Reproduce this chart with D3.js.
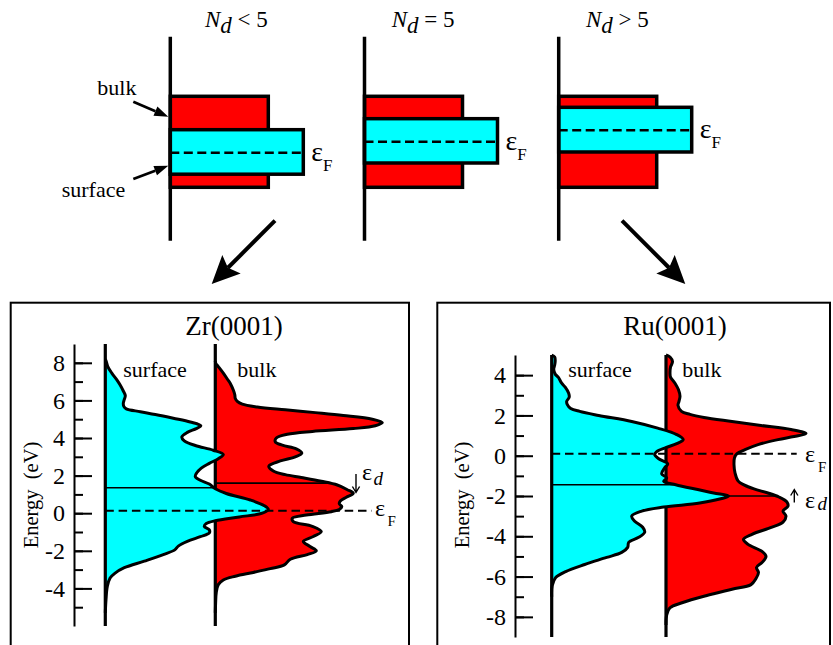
<!DOCTYPE html>
<html>
<head>
<meta charset="utf-8">
<script src="https://cdn.jsdelivr.net/npm/d3@7"></script>
<style>
  html, body { margin: 0; padding: 0; background: #fff; }
  svg { display: block; }
  svg text { font-family: "Liberation Serif", serif; }
</style>
</head>
<body>
<svg id="fig" width="833" height="645"></svg>
<script>
// ---------------- schematic d-band cases (N_d relative to 5) ----------------
const caseRelations = ["<", "=", ">"];
const bulkBand = [-1, 1];                       // bulk band edges (schematic energy units)
const surfaceBands = [[-0.712, 0.266], [-0.466, 0.508], [-0.224, 0.758]];
const schematicFermi = [-0.24, 0.0, 0.253];
const bulkBandWidth = 0.98;                      // DOS height of bulk band
const surfaceBandWidth = 1.33;                   // DOS height of surface band

// ---------------- calculated d-DOS, [energy (eV), DOS (arb. units)] ----------------
const zrSurface = [
  [8.2, 0], [8.1, 0.008], [7.8, 0.025], [7.45, 0.065], [7.1, 0.114], [6.8, 0.15], [6.5, 0.18],
  [6.25, 0.20], [6.05, 0.19], [5.85, 0.18], [5.68, 0.185], [5.55, 0.21], [5.4, 0.35], [5.25, 0.50],
  [5.05, 0.68], [4.85, 0.85], [4.65, 0.955], [4.5, 0.91], [4.3, 0.82], [4.05, 0.765], [3.85, 0.79],
  [3.6, 0.90], [3.35, 1.08], [3.12, 1.18], [2.9, 1.13], [2.65, 1.04], [2.4, 0.96], [2.15, 0.915],
  [1.95, 0.90], [1.75, 0.95], [1.55, 1.04], [1.3, 1.10], [1.05, 1.21], [0.7, 1.45], [0.4, 1.59],
  [0.2, 1.63], [0.0, 1.57], [-0.2, 1.34], [-0.4, 1.10], [-0.55, 1.01], [-0.7, 0.99], [-0.88, 1.04],
  [-1.05, 1.04], [-1.25, 0.95], [-1.5, 0.82], [-1.75, 0.73], [-1.95, 0.695], [-2.2, 0.58],
  [-2.55, 0.39], [-2.9, 0.19], [-3.2, 0.095], [-3.45, 0.048], [-3.9, 0.02], [-4.6, 0.007], [-5.3, 0]
];
const zrBulk = [
  [8.1, 0], [7.97, 0.005], [7.8, 0.03], [7.45, 0.08], [7.1, 0.125], [6.9, 0.15], [6.55, 0.18],
  [6.3, 0.195], [6.1, 0.20], [5.95, 0.22], [5.8, 0.27], [5.65, 0.42], [5.5, 0.70], [5.35, 1.00],
  [5.2, 1.28], [5.0, 1.57], [4.82, 1.67], [4.65, 1.60], [4.5, 1.38], [4.35, 0.97], [4.2, 0.72],
  [4.0, 0.61], [3.8, 0.60], [3.62, 0.67], [3.42, 0.81], [3.2, 0.865], [3.0, 0.80], [2.78, 0.65],
  [2.5, 0.535], [2.25, 0.58], [2.05, 0.70], [1.9, 0.86], [1.7, 1.06], [1.5, 1.22], [1.25, 1.32],
  [1.06, 1.38], [0.85, 1.31], [0.65, 1.25], [0.5, 1.24], [0.35, 1.265], [0.2, 1.24], [0.08, 1.16],
  [-0.1, 0.91], [-0.27, 0.77], [-0.45, 0.78], [-0.7, 0.97], [-0.98, 1.06], [-1.24, 0.98],
  [-1.5, 0.88], [-1.77, 0.947], [-2.0, 1.01], [-2.2, 0.92], [-2.45, 0.75], [-2.75, 0.69],
  [-2.95, 0.55], [-3.15, 0.38], [-3.35, 0.20], [-3.55, 0.08], [-3.8, 0.03], [-4.2, 0.01],
  [-4.8, 0.003], [-5.3, 0]
];
const ruSurface = [
  [5.0, 0], [4.9, 0.03], [4.7, 0.035], [4.5, 0.03], [4.3, 0.02], [4.05, 0.035], [3.9, 0.065],
  [3.6, 0.10], [3.4, 0.135], [3.1, 0.17], [2.9, 0.175], [2.7, 0.15], [2.55, 0.155], [2.35, 0.19],
  [2.2, 0.28], [2.0, 0.47], [1.7, 0.80], [1.37, 1.06], [1.05, 1.25], [0.8, 1.315], [0.6, 1.25],
  [0.4, 1.14], [0.2, 1.05], [0.05, 1.03], [-0.15, 1.07], [-0.4, 1.16], [-0.6, 1.13], [-0.9, 1.10],
  [-1.1, 1.15], [-1.27, 1.12], [-1.44, 1.24], [-1.68, 1.46], [-1.85, 1.62], [-2.0, 1.77],
  [-2.15, 1.68], [-2.35, 1.48], [-2.55, 1.12], [-2.75, 0.90], [-3.0, 0.80], [-3.25, 0.83],
  [-3.55, 0.91], [-3.8, 0.93], [-4.05, 0.87], [-4.3, 0.77], [-4.55, 0.76], [-4.8, 0.70],
  [-5.05, 0.55], [-5.4, 0.33], [-5.75, 0.14], [-6.05, 0.04], [-6.45, 0.005], [-7.0, 0]
];
const ruBulk = [
  [5.0, 0], [4.9, 0.04], [4.67, 0.065], [4.4, 0.045], [4.1, 0.04], [3.9, 0.045], [3.6, 0.09],
  [3.27, 0.125], [2.95, 0.14], [2.7, 0.13], [2.5, 0.12], [2.2, 0.155], [2.05, 0.24], [1.9, 0.38],
  [1.7, 0.66], [1.5, 0.95], [1.3, 1.25], [1.1, 1.40], [0.95, 1.28], [0.8, 1.12], [0.55, 0.92],
  [0.3, 0.79], [0.1, 0.71], [-0.1, 0.685], [-0.45, 0.68], [-0.85, 0.69], [-1.25, 0.72],
  [-1.45, 0.78], [-1.65, 0.88], [-1.85, 1.02], [-2.05, 1.13], [-2.3, 1.21], [-2.5, 1.22],
  [-2.75, 1.17], [-3.0, 1.20], [-3.3, 1.17], [-3.55, 1.06], [-3.9, 0.86], [-4.15, 0.775],
  [-4.4, 0.82], [-4.75, 0.96], [-5.0, 1.00], [-5.3, 0.96], [-5.55, 0.905], [-5.8, 0.925],
  [-6.1, 0.90], [-6.4, 0.85], [-6.63, 0.66], [-6.95, 0.40], [-7.3, 0.16], [-7.55, 0.04],
  [-7.9, 0.007], [-8.4, 0]
];

// levels (eV)
const panelNames = ["Zr(0001)", "Ru(0001)"];
const fermiEnergy = [0.13, 0.1];
const dCenterSurface = [1.35, -1.44];
const dCenterBulk = [1.6, -2.0];
const energyDomains = [[-6, 9], [-9, 5]];
const majorTicks = [[-4, -2, 0, 2, 4, 6, 8], [-8, -6, -4, -2, 0, 2, 4]];
const minorTicks = [d3.range(-5, 9), d3.range(-8, 5)];

const RED = "#ff0000", CYAN = "#00ffff", INK = "#000";
const svg = d3.select("#fig");

// ---------- arrow helpers ----------
function arrow(g, x1, y1, x2, y2, o) {
  const dx = x2 - x1, dy = y2 - y1, L = Math.hypot(dx, dy);
  const ux = dx / L, uy = dy / L, px = -uy, py = ux;
  const bx = x2 - ux * o.head, by = y2 - uy * o.head;
  const nx = x2 - ux * o.head * (1 - (o.notch || 0)), ny = y2 - uy * o.head * (1 - (o.notch || 0));
  g.append("line").attr("x1", x1).attr("y1", y1).attr("x2", nx).attr("y2", ny)
    .attr("stroke", INK).attr("stroke-width", o.lw);
  g.append("path")
    .attr("d", `M${x2},${y2}L${bx + px * o.w / 2},${by + py * o.w / 2}L${nx},${ny}L${bx - px * o.w / 2},${by - py * o.w / 2}Z`)
    .attr("fill", INK);
}
function openArrow(g, x, yFrom, yTo) {
  const s = Math.sign(yTo - yFrom);
  g.append("path")
    .attr("d", `M${x},${yFrom}V${yTo}M${x - 3.6},${yTo - s * 6}L${x},${yTo}L${x + 3.6},${yTo - s * 6}`)
    .attr("fill", "none").attr("stroke", INK).attr("stroke-width", 1.4);
}

// ---------- top: schematic bands ----------
const caseX = d3.scalePoint().domain(d3.range(caseRelations.length)).range([170.3, 558.7]);
const bandY = d3.scaleLinear().domain([-1, 1]).range([187.3, 96.3]);
const bandW = d3.scaleLinear().domain([0, 1]).range([0, 100]);
const titleStart = [205, 391.7, 586];

caseRelations.forEach((rel, i) => {
  const x0 = caseX(i);
  const g = svg.append("g");
  g.append("rect")
    .attr("x", x0).attr("y", bandY(bulkBand[1]))
    .attr("width", bandW(bulkBandWidth)).attr("height", bandY(bulkBand[0]) - bandY(bulkBand[1]))
    .attr("fill", RED).attr("stroke", INK).attr("stroke-width", 3.5);
  const sb = surfaceBands[i];
  g.append("rect")
    .attr("x", x0).attr("y", bandY(sb[1]))
    .attr("width", bandW(surfaceBandWidth)).attr("height", bandY(sb[0]) - bandY(sb[1]))
    .attr("fill", CYAN).attr("stroke", INK).attr("stroke-width", 3.5);
  g.append("line")
    .attr("x1", x0).attr("x2", x0 + bandW(surfaceBandWidth))
    .attr("y1", bandY(schematicFermi[i])).attr("y2", bandY(schematicFermi[i]))
    .attr("stroke", INK).attr("stroke-width", 2.5).attr("stroke-dasharray", "9,4.5");
  g.append("line").attr("x1", x0).attr("x2", x0).attr("y1", 36.7).attr("y2", 240.7)
    .attr("stroke", INK).attr("stroke-width", 3.5);

  const ef = g.append("text")
    .attr("x", x0 + bandW(surfaceBandWidth) + 8).attr("y", bandY(schematicFermi[i]) + 8);
  ef.append("tspan").attr("font-size", 28).text("ε");
  ef.append("tspan").attr("font-size", 17).attr("dy", 10).text("F");

  const tt = g.append("text").attr("x", titleStart[i]).attr("y", 26.7).attr("font-size", 23);
  tt.append("tspan").attr("font-style", "italic").text("N");
  tt.append("tspan").attr("font-style", "italic").attr("dy", 6.7).text("d");
  tt.append("tspan").attr("dy", -6.7).attr("xml:space", "preserve").text(" " + rel + " 5");
});

// labels + pointers on the first case
const lab = svg.append("g").attr("font-size", 22);
lab.append("text").attr("x", 97.3).attr("y", 95).text("bulk");
lab.append("text").attr("x", 61.7).attr("y", 197.3).text("surface");
arrow(svg, 133.3, 101.7, 168.3, 116.7, { head: 14, w: 10, lw: 2.6 });
arrow(svg, 133.3, 179, 168.3, 165.7, { head: 14, w: 10, lw: 2.6 });

// big arrows down to the two panels
arrow(svg, 275, 220.7, 211.7, 284, { head: 28, w: 26, lw: 4, notch: 0.18 });
arrow(svg, 622, 220.7, 685.3, 284, { head: 28, w: 26, lw: 4, notch: 0.18 });

// ---------- bottom: DOS panels ----------
const panelLayout = [
  { box: [10.7, 302.7, 398.3], tickX: 74, surfX: 105.3, bulkX: 215.3, yRange: [626, 344],
    titleX: 234, fermiEnd: 371.7, efLabel: [375, 516.3, 387.5, 525.7, 15], edLabel: [362, 480, 373.5, 485],
    edArrow: [356, 474, 492.5], surfLab: 123.3, bulkLab: 237.3, yLabX: 38.3 },
  { box: [437.3, 302.7, 392.7], tickX: 515, surfX: 551.7, bulkX: 666, yRange: [637, 355],
    titleX: 675, fermiEnd: 796.7, efLabel: [805, 461.7, 818, 471.7, 15], edLabel: [805, 508, 817.5, 510],
    edArrow: [794.3, 502.5, 489.5], surfLab: 568.3, bulkLab: 682.3, yLabX: 469.3 }
];
const dosSeries = [[zrSurface, zrBulk], [ruSurface, ruBulk]];
const dosX = d3.scaleLinear().domain([0, 1]).range([0, 100]);

function dosAt(data, e) {
  for (let i = 0; i < data.length - 1; i++) {
    const a = data[i], b = data[i + 1];
    if (e <= a[0] && e >= b[0]) return a[1] + (b[1] - a[1]) * (a[0] - e) / (a[0] - b[0]);
  }
  return 0;
}

panelLayout.forEach((L, p) => {
  const g = svg.append("g");
  const y = d3.scaleLinear().domain(energyDomains[p]).range(L.yRange);
  const [surf, bulk] = dosSeries[p];
  const curve = d3.curveCatmullRom.alpha(0.5);

  g.append("rect").attr("x", L.box[0]).attr("y", L.box[1]).attr("width", L.box[2]).attr("height", 400)
    .attr("fill", "none").attr("stroke", INK).attr("stroke-width", 2);

  g.append("text").attr("x", L.titleX).attr("y", 334.7).attr("text-anchor", "middle")
    .attr("font-size", 27).text(panelNames[p]);

  function drawDOS(data, axisX, fill, dLevel) {
    const area = d3.area().curve(curve).y(d => y(d[0])).x0(axisX).x1(d => axisX + dosX(d[1]));
    const line = d3.line().curve(curve).y(d => y(d[0])).x(d => axisX + dosX(d[1]));
    g.append("path").datum(data).attr("d", area).attr("fill", fill);
    g.append("path").datum(data).attr("d", line).attr("fill", "none")
      .attr("stroke", INK).attr("stroke-width", 3).attr("stroke-linejoin", "round");
    g.append("line").attr("x1", axisX).attr("x2", axisX + dosX(dosAt(data, dLevel)))
      .attr("y1", y(dLevel)).attr("y2", y(dLevel)).attr("stroke", INK).attr("stroke-width", 1.6);
    g.append("line").attr("x1", axisX).attr("x2", axisX).attr("y1", L.yRange[1]).attr("y2", L.yRange[0])
      .attr("stroke", INK).attr("stroke-width", 3.2);
  }
  drawDOS(bulk, L.bulkX, RED, dCenterBulk[p]);
  drawDOS(surf, L.surfX, CYAN, dCenterSurface[p]);

  // Fermi level
  g.append("line").attr("x1", L.surfX).attr("x2", L.fermiEnd)
    .attr("y1", y(fermiEnergy[p])).attr("y2", y(fermiEnergy[p]))
    .attr("stroke", INK).attr("stroke-width", 2).attr("stroke-dasharray", "8.5,4.8");

  // energy axis: labelled major ticks every 2 eV, minor ticks every 1 eV, ticks point inward
  const major = d3.axisLeft(y).tickValues(majorTicks[p]).tickSizeInner(-18).tickSizeOuter(0)
    .tickPadding(9).tickFormat(d => String(d));
  const ax = g.append("g").attr("transform", `translate(${L.tickX},0)`).call(major);
  ax.attr("font-family", null);
  ax.select(".domain").attr("stroke-width", 2);
  ax.selectAll(".tick line").attr("stroke-width", 2);
  ax.selectAll("text").attr("font-size", 24);
  const minor = d3.axisLeft(y).tickValues(minorTicks[p]).tickSizeInner(-9).tickSizeOuter(0).tickFormat("");
  const axm = g.append("g").attr("transform", `translate(${L.tickX},0)`).call(minor);
  axm.select(".domain").remove();
  axm.selectAll(".tick line").attr("stroke-width", 2);

  g.append("text").attr("transform", `translate(${L.yLabX},495) rotate(-90)`)
    .attr("text-anchor", "middle").attr("font-size", 20.5).attr("xml:space", "preserve")
    .text("Energy  (eV)");

  g.append("text").attr("x", L.surfLab).attr("y", 377.3).attr("font-size", 22).text("surface");
  g.append("text").attr("x", L.bulkLab).attr("y", 377.3).attr("font-size", 22).text("bulk");

  // ε_F label
  const ef = L.efLabel;
  g.append("text").attr("x", ef[0]).attr("y", ef[1]).attr("font-size", 24).text("ε");
  g.append("text").attr("x", ef[2]).attr("y", ef[3]).attr("font-size", ef[4]).text("F");
  // ε_d label with shift arrow
  const ed = L.edLabel;
  g.append("text").attr("x", ed[0]).attr("y", ed[1]).attr("font-size", 24).text("ε");
  g.append("text").attr("x", ed[2]).attr("y", ed[3]).attr("font-size", 19).attr("font-style", "italic").text("d");
  openArrow(g, L.edArrow[0], L.edArrow[1], L.edArrow[2]);
});

// one serif family for every label, italic symbols included
svg.selectAll("text").style("font-family", "'Liberation Serif', serif");
</script>
</body>
</html>
